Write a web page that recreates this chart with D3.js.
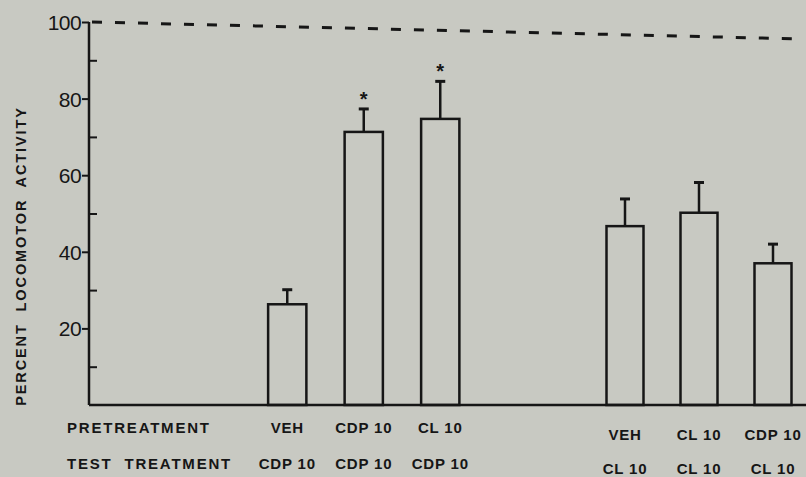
<!DOCTYPE html>
<html><head><meta charset="utf-8">
<script src="https://cdn.jsdelivr.net/npm/d3@7"></script>
<style>
html,body{margin:0;padding:0;background:#c8c9c2;}
svg{display:block;}
text{font-family:"Liberation Sans",Arial,sans-serif;fill:#161616;}
</style></head>
<body>
<svg id="chart" width="806" height="477"></svg>
<script>
// ---- data ----
const pretreatment = ["VEH", "CDP 10", "CL 10", "VEH", "CL 10", "CDP 10"];
const testTreatment = ["CDP 10", "CDP 10", "CDP 10", "CL 10", "CL 10", "CL 10"];
const groupOf = [0, 0, 0, 1, 1, 1];
const values = [26.3, 71.3, 74.7, 46.7, 50.2, 37.0];
const errors = [3.8, 6.0, 9.8, 7.1, 7.9, 5.0];
const significant = [false, true, true, false, false, false];
const yTicks = [20, 40, 60, 80, 100];
const yMinorTicks = [10, 30, 50, 70, 90];
const refLine = [100, 95.6];
const yLabel = "PERCENT  LOCOMOTOR  ACTIVITY";
const rowLabels = ["PRETREATMENT", "TEST  TREATMENT"];

// ---- drawing ----
const svg = d3.select("#chart");
const ink = "#161616";
const y = d3.scaleLinear().domain([0, 100]).range([405, 22]);
const axisX = 89;

const groups = [[0,1,2],[3,4,5]];
const xScales = [
  d3.scaleBand().domain(groups[0]).range([249, 478.5]).paddingInner(0.5).paddingOuter(0.25),
  d3.scaleBand().domain(groups[1]).range([588, 810]).paddingInner(0.5).paddingOuter(0.25)
];
const bx = i => xScales[groupOf[i]](i);
const bw = i => xScales[groupOf[i]].bandwidth();
const bc = i => bx(i) + bw(i) / 2;

// reference dashed line
svg.append("line")
  .attr("x1", axisX + 3).attr("x2", 795)
  .attr("y1", y(refLine[0])).attr("y2", y(refLine[1]))
  .attr("stroke", ink).attr("stroke-width", 3)
  .attr("stroke-dasharray", "10,13");

// y axis (major ticks outside)
const yAxis = d3.axisLeft(y).tickValues(yTicks).tickSize(7).tickPadding(1).tickFormat(d3.format("d"));
const ga = svg.append("g").attr("transform", `translate(${axisX},0)`).call(yAxis);
ga.select(".domain").attr("stroke", ink).attr("stroke-width", 2.5).attr("d", `M0,${y(100)}V${y(0)}`);
ga.selectAll(".tick line").attr("stroke", ink).attr("stroke-width", 2);
ga.selectAll(".tick text").attr("font-size", 21).attr("fill", ink)
  .style("font-family", "'Liberation Sans',Arial,sans-serif").attr("letter-spacing", "-0.6px").attr("dy", "0.36em");

// minor ticks inside
const minorAxis = d3.axisRight(y).tickValues(yMinorTicks).tickSize(8).tickFormat("");
const gm = svg.append("g").attr("transform", `translate(${axisX},0)`).call(minorAxis);
gm.select(".domain").remove();
gm.selectAll(".tick line").attr("stroke", ink).attr("stroke-width", 2);

// baseline
svg.append("line").attr("x1", axisX).attr("x2", 806).attr("y1", y(0)).attr("y2", y(0))
  .attr("stroke", ink).attr("stroke-width", 2.5);

// bars
const idx = d3.range(values.length);
svg.append("g").selectAll("rect").data(idx).join("rect")
  .attr("x", i => bx(i)).attr("width", i => bw(i))
  .attr("y", i => y(values[i])).attr("height", i => y(0) - y(values[i]))
  .attr("fill", "none").attr("stroke", ink).attr("stroke-width", 2.5);

// error bars
const eg = svg.append("g");
eg.selectAll("line.v").data(idx).join("line").attr("class","v")
  .attr("x1", bc).attr("x2", bc)
  .attr("y1", i => y(values[i])).attr("y2", i => y(values[i] + errors[i]))
  .attr("stroke", ink).attr("stroke-width", 2.5);
eg.selectAll("line.c").data(idx).join("line").attr("class","c")
  .attr("x1", i => bc(i) - 5).attr("x2", i => bc(i) + 5)
  .attr("y1", i => y(values[i] + errors[i])).attr("y2", i => y(values[i] + errors[i]))
  .attr("stroke", ink).attr("stroke-width", 3);

// significance stars
svg.append("g").selectAll("text").data(idx.filter(i => significant[i])).join("text")
  .attr("x", bc).attr("y", i => y(values[i] + errors[i]) - 3)
  .attr("text-anchor", "middle").attr("font-size", 20).attr("font-weight", "bold")
  .text("*");

// y label
svg.append("text")
  .attr("transform", `translate(26,256) rotate(-90)`)
  .attr("text-anchor", "middle").attr("font-size", 14.5).attr("font-weight", "bold")
  .attr("letter-spacing", "1.9px")
  .attr("xml:space", "preserve")
  .text(yLabel);

// row labels
const rowBase = [[433, 440], [469, 474]];
rowLabels.forEach((t, r) => {
  svg.append("text").attr("x", 67).attr("y", rowBase[r][0])
    .attr("font-size", 15).attr("font-weight", "bold").attr("letter-spacing", "1.8px")
    .attr("xml:space", "preserve").text(t);
});
[pretreatment, testTreatment].forEach((arr, r) => {
  svg.append("g").selectAll("text").data(idx).join("text")
    .attr("x", bc).attr("y", i => rowBase[r][groupOf[i]])
    .attr("text-anchor", "middle").attr("font-size", 15).attr("font-weight", "bold")
    .attr("letter-spacing", "0.8px").attr("xml:space", "preserve")
    .text(i => arr[i]);
});
</script>
</body></html>
